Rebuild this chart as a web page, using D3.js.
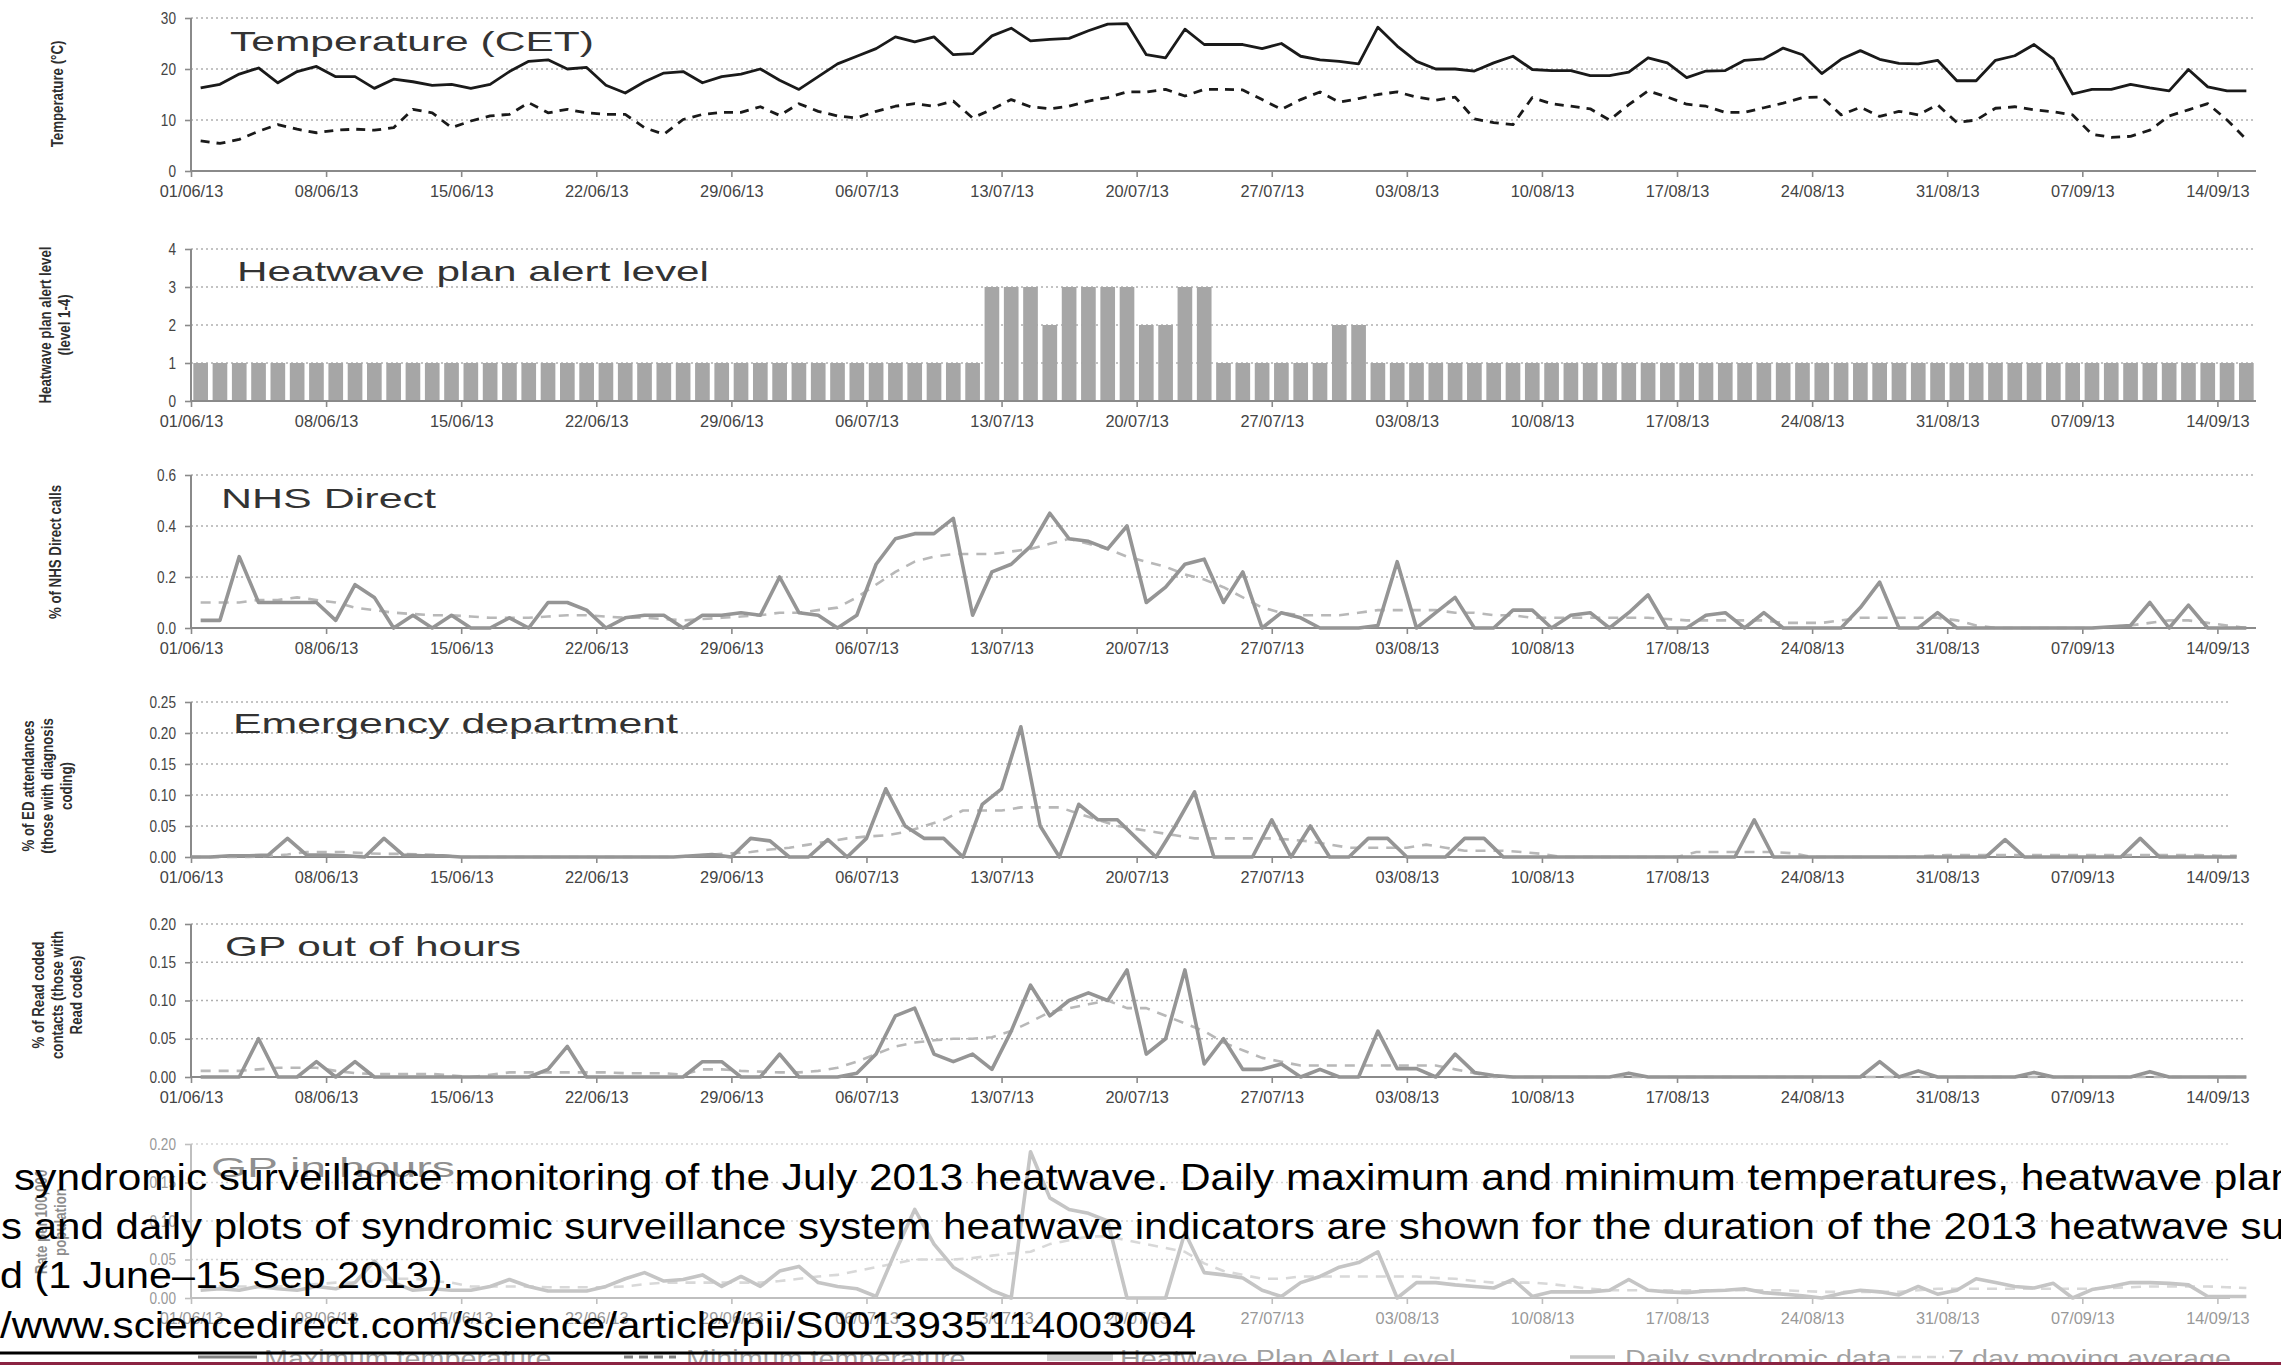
<!DOCTYPE html>
<html>
<head>
<meta charset="utf-8">
<script src="https://cdn.jsdelivr.net/npm/d3@7"></script>
<style>
  body { margin: 0; background: #fff; }
  text { font-family: "Liberation Sans", Arial, sans-serif; }
</style>
</head>
<body>
<svg width="2281" height="1365"></svg>
<script>
// Days shown: 01/06/13 to 15/09/13
const startDay = new Date(2013, 5, 1),
      endDay = new Date(2013, 8, 16);
const days = d3.timeDay.range(startDay, endDay);
const weekTicks = days.filter((d, i) => i % 7 === 0);

// Temperature (CET), degrees C
const maxTemp = [16.3,17,19,20.2,17.3,19.5,20.5,18.5,18.5,16.2,
  18,17.5,16.8,17,16.2,17,19.5,21.5,21.8,20,
  20.3,16.8,15.3,17.5,19.2,19.5,17.3,18.5,19,20,
  17.8,16,18.5,21,22.5,24,26.3,25.3,26.3,22.8,
  23,26.5,28,25.5,25.8,26,27.5,28.8,28.9,22.8,
  22.2,27.8,24.8,24.8,24.8,24,25,22.5,21.8,21.5,
  21,28.2,24.5,21.5,20,20,19.6,21.2,22.5,19.9,
  19.7,19.7,18.7,18.7,19.4,22.2,21.2,18.3,19.6,19.7,
  21.7,22,24.1,22.8,19.1,21.9,23.6,21.9,21.1,21,
  21.7,17.7,17.7,21.7,22.6,24.8,22,15.1,16,16,
  17,16.3,15.7,19.9,16.5,15.7,15.7];
const minTemp = [5.9,5.4,6.2,7.8,9.1,8.2,7.5,8,8.2,8,
  8.5,12.1,11.4,8.5,9.8,10.8,11.1,13.4,11.4,12.1,
  11.4,11.1,11.1,8.5,7.2,10.1,11.1,11.5,11.5,12.6,
  10.9,13.2,11.7,10.8,10.4,11.7,12.7,13.2,12.7,13.7,
  10.4,12.1,14,12.6,12.2,12.7,13.7,14.4,15.5,15.5,
  16,14.7,16,16,15.9,14,12.1,14,15.5,13.5,
  14.2,15,15.5,14.5,13.9,14.5,10.2,9.5,9.1,14.4,
  13.2,12.7,12.2,10,13,15.7,14.5,13.1,12.7,11.5,
  11.5,12.4,13.3,14.4,14.5,11,12.5,10.7,11.7,11,
  13,9.5,10,12.3,12.6,12,11.6,11,7.2,6.6,
  6.8,8,10.8,12,13.2,10,6.2];

// Heatwave plan alert level (1-4)
const alertLevel = [1,1,1,1,1,1,1,1,1,1, 1,1,1,1,1,1,1,1,1,1,
  1,1,1,1,1,1,1,1,1,1, 1,1,1,1,1,1,1,1,1,1,
  1,3,3,3,2,3,3,3,3,2, 2,3,3,1,1,1,1,1,1,2,
  2,1,1,1,1,1,1,1,1,1, 1,1,1,1,1,1,1,1,1,1,
  1,1,1,1,1,1,1,1,1,1, 1,1,1,1,1,1,1,1,1,1,
  1,1,1,1,1,1,1];

// NHS Direct, % of calls
const nhsDaily = [0.03,0.03,0.28,0.1,0.1,0.1,0.1,0.03,0.17,0.12,
  0,0.05,0,0.05,0,0,0.04,0,0.1,0.1,
  0.07,0,0.04,0.05,0.05,0,0.05,0.05,0.06,0.05,
  0.2,0.06,0.05,0,0.05,0.25,0.35,0.37,0.37,0.43,
  0.05,0.22,0.25,0.32,0.45,0.35,0.34,0.31,0.4,0.1,
  0.16,0.25,0.27,0.1,0.22,0,0.06,0.04,0,0,
  0,0.01,0.26,0,0.06,0.12,0,0,0.07,0.07,
  0,0.05,0.06,0,0.06,0.13,0,0,0.05,0.06,
  0,0.06,0,0,0,0,0.08,0.18,0,0,
  0.06,0,0,0,0,0,0,0,0,0.005,
  0.01,0.1,0,0.09,0,0,0];
const nhsAvg = [0.1,0.1,0.1,0.11,0.11,0.12,0.11,0.1,0.08,0.07,
  0.06,0.055,0.05,0.05,0.045,0.04,0.04,0.04,0.045,0.05,
  0.05,0.045,0.04,0.04,0.035,0.03,0.035,0.04,0.045,0.05,
  0.06,0.06,0.07,0.08,0.12,0.17,0.22,0.26,0.28,0.29,
  0.29,0.29,0.3,0.31,0.33,0.35,0.33,0.31,0.28,0.26,
  0.24,0.21,0.19,0.16,0.12,0.08,0.06,0.05,0.05,0.05,
  0.06,0.07,0.07,0.07,0.07,0.06,0.06,0.05,0.05,0.04,
  0.04,0.04,0.04,0.04,0.04,0.04,0.035,0.03,0.03,0.03,
  0.03,0.03,0.02,0.02,0.02,0.03,0.04,0.04,0.04,0.04,
  0.04,0.03,0.01,0,0,0,0,0,0,0.005,
  0.01,0.02,0.03,0.03,0.02,0.01,0];

// Emergency department, % of attendances
const edDaily = [0,0,0.002,0.002,0.003,0.03,0.003,0.003,0.002,0,
  0.03,0.003,0.002,0.002,0,0,0,0,0,0,
  0,0,0,0,0,0,0.002,0.004,0,0.03,
  0.026,0,0,0.028,0,0.03,0.11,0.05,0.03,0.03,
  0,0.085,0.11,0.21,0.05,0,0.085,0.06,0.06,0.03,
  0,0.05,0.105,0,0,0,0.06,0,0.05,0,
  0,0.03,0.03,0,0,0,0.03,0.03,0,0,
  0,0,0,0,0,0,0,0,0,0,
  0,0.06,0,0,0,0,0,0,0,0,
  0,0,0,0,0.028,0,0,0,0,0,
  0,0.03,0,0,0,0,0];
const edAvg = [0,0,0,0,0.002,0.004,0.008,0.008,0.008,0.006,
  0.005,0.005,0.004,0.003,0,0,0,0,0,0,
  0,0,0,0,0,0,0.002,0.004,0.006,0.008,
  0.012,0.015,0.02,0.025,0.03,0.033,0.035,0.04,0.05,0.06,
  0.075,0.075,0.075,0.08,0.08,0.08,0.07,0.06,0.05,0.045,
  0.04,0.035,0.03,0.03,0.03,0.03,0.03,0.028,0.025,0.02,
  0.015,0.015,0.015,0.015,0.02,0.015,0.01,0.01,0.01,0.008,
  0.005,0,0,0,0,0,0,0,0.008,0.008,
  0.008,0.008,0.008,0.006,0,0,0,0,0,0,
  0.002,0.003,0.003,0.003,0.003,0.003,0.003,0.003,0.003,0.003,
  0.003,0.003,0.003,0.003,0.003,0.002,0.002];

// GP out of hours, % of Read coded contacts
const oohDaily = [0,0,0,0.05,0,0,0.02,0,0.02,0,
  0,0,0,0,0,0,0,0,0.01,0.04,
  0,0,0,0,0,0,0.02,0.02,0,0,
  0.03,0,0,0,0.005,0.03,0.08,0.09,0.03,0.02,
  0.03,0.01,0.06,0.12,0.08,0.1,0.11,0.1,0.14,0.03,
  0.05,0.14,0.017,0.05,0.01,0.01,0.017,0,0.01,0,
  0,0.06,0.011,0.011,0,0.03,0.006,0.002,0,0,
  0,0,0,0,0.005,0,0,0,0,0,
  0,0,0,0,0,0,0,0.02,0,0.008,
  0,0,0,0,0,0.006,0,0,0,0,
  0,0.007,0,0,0,0,0];
const oohAvg = [0.008,0.008,0.008,0.01,0.012,0.012,0.012,0.008,0.005,0.004,
  0.004,0.004,0.004,0.002,0,0.003,0.006,0.006,0.006,0.006,
  0.006,0.006,0.005,0.005,0.005,0.003,0.01,0.01,0.008,0.007,
  0.006,0.006,0.008,0.012,0.02,0.03,0.04,0.045,0.048,0.05,
  0.05,0.052,0.06,0.072,0.085,0.09,0.095,0.1,0.09,0.09,
  0.08,0.07,0.06,0.045,0.035,0.025,0.02,0.015,0.015,0.015,
  0.015,0.015,0.015,0.015,0.015,0.01,0.005,0,0,0,
  0,0,0,0,0,0,0,0,0,0,
  0,0,0,0,0,0,0,0,0,0,
  0,0,0,0,0,0,0,0,0,0,
  0,0,0,0,0,0,0];

// GP in hours
const inhDaily = [0.01,0.012,0.01,0.015,0.012,0.01,0.015,0.012,0.02,0.048,
  0.02,0.01,0.012,0.01,0.01,0.015,0.024,0.015,0.009,0.009,
  0.009,0.015,0.025,0.033,0.022,0.024,0.03,0.015,0.028,0.015,
  0.035,0.041,0.02,0.015,0.012,0.002,0.06,0.115,0.07,0.04,
  0.025,0.01,0,0.19,0.13,0.115,0.11,0.1,0,0,
  0,0.085,0.033,0.03,0.026,0.01,0.002,0.02,0.028,0.04,
  0.046,0.06,0,0.02,0.02,0.017,0.015,0.013,0.024,0.002,
  0.008,0.008,0.008,0.01,0.024,0.01,0.008,0.007,0.009,0.01,
  0.012,0.007,0.005,0.003,0,0.006,0.01,0.008,0.004,0.015,
  0.005,0.01,0.025,0.02,0.015,0.013,0.019,0,0.011,0.015,
  0.02,0.02,0.019,0.017,0.002,0.002,0.002];
const inhAvg = [0.015,0.015,0.015,0.015,0.015,0.016,0.018,0.02,0.02,0.022,
  0.025,0.025,0.022,0.02,0.015,0.015,0.015,0.015,0.014,0.014,
  0.014,0.014,0.015,0.018,0.02,0.02,0.02,0.02,0.02,0.02,
  0.022,0.025,0.028,0.03,0.035,0.04,0.045,0.05,0.05,0.05,
  0.052,0.055,0.058,0.06,0.07,0.075,0.08,0.08,0.075,0.07,
  0.065,0.06,0.045,0.035,0.03,0.025,0.025,0.028,0.028,0.028,
  0.028,0.028,0.028,0.028,0.026,0.025,0.022,0.02,0.02,0.02,
  0.018,0.015,0.012,0.01,0.01,0.01,0.01,0.01,0.01,0.01,
  0.01,0.01,0.01,0.009,0.008,0.008,0.008,0.008,0.008,0.01,
  0.012,0.012,0.012,0.012,0.012,0.012,0.012,0.012,0.012,0.013,
  0.014,0.015,0.015,0.015,0.015,0.014,0.013];

const tempTicks = [0, 10, 20, 30];
const alertTicks = [0, 1, 2, 3, 4];
const nhsTicks = [0, 0.2, 0.4, 0.6];
const edTicks = [0, 0.05, 0.1, 0.15, 0.2, 0.25];
const gpTicks = [0, 0.05, 0.1, 0.15, 0.2];

const captionLines = [
  "syndromic surveillance monitoring of the July 2013 heatwave. Daily maximum and minimum temperatures, heatwave plan",
  "s and daily plots of syndromic surveillance system heatwave indicators are shown for the duration of the 2013 heatwave su",
  "d (1 June\u201315 Sep 2013).",
  "/www.sciencedirect.com/science/article/pii/S0013935114003004"
];

// line styles
const styles = {
  max:   { stroke: "#1a1a1a", width: 2.8, dash: null },
  min:   { stroke: "#1a1a1a", width: 2.8, dash: "9,7" },
  daily: { stroke: "#959595", width: 3.6, dash: null },
  avg:   { stroke: "#b8b8b8", width: 2.6, dash: "10,8" },
  bar:   { stroke: "#a6a6a6", width: 9, dash: null }
};

const svg = d3.select("svg");
const x = d3.scaleTime().domain([startDay, endDay]).range([191, 2256]);
const dayW = x(days[1]) - x(days[0]);
const fmt = d3.timeFormat("%d/%m/%y");

function stretch(sel, k) {
  sel.each(function() {
    const w = this.getComputedTextLength();
    d3.select(this).attr("textLength", w * k).attr("lengthAdjust", "spacingAndGlyphs");
  });
}

const panels = [
  { top: 18, bottom: 171, domain: [0, 30], ticks: tempTicks, format: d3.format("d"), end: 2256,
    title: "Temperature (CET)", tx: 230, tw: 364, ty: 51,
    ylab: ["Temperature (\u00b0C)"], lx: 57, ly: 94,
    series: [{ v: maxTemp, s: "max" }, { v: minTemp, s: "min" }], offset: 0.5 },
  { top: 249, bottom: 401, domain: [0, 4], ticks: alertTicks, format: d3.format("d"), end: 2256,
    title: "Heatwave plan alert level", tx: 237, tw: 472, ty: 281,
    ylab: ["Heatwave plan alert level", "(level 1-4)"], lx: 54, ly: 325,
    bars: alertLevel, series: [], offset: 0.5 },
  { top: 475, bottom: 628, domain: [0, 0.6], ticks: nhsTicks, format: d3.format(".1f"), end: 2256,
    title: "NHS Direct", tx: 221, tw: 215, ty: 508,
    ylab: ["% of NHS Direct calls"], lx: 55, ly: 552,
    series: [{ v: nhsAvg, s: "avg" }, { v: nhsDaily, s: "daily" }], offset: 0.5 },
  { top: 702, bottom: 857, domain: [0, 0.25], ticks: edTicks, format: d3.format(".2f"), end: 2230,
    title: "Emergency department", tx: 233, tw: 445, ty: 733,
    ylab: ["% of ED attendances", "(those with diagnosis", "coding)"], lx: 47, ly: 786,
    series: [{ v: edAvg, s: "avg" }, { v: edDaily, s: "daily" }], offset: 0 },
  { top: 924, bottom: 1077, domain: [0, 0.2], ticks: gpTicks, format: d3.format(".2f"), end: 2245,
    title: "GP out of hours", tx: 225, tw: 296, ty: 956,
    ylab: ["% of Read coded", "contacts (those with", "Read codes)"], lx: 57, ly: 995,
    series: [{ v: oohAvg, s: "avg" }, { v: oohDaily, s: "daily" }], offset: 0.5 },
  { top: 1144, bottom: 1298, domain: [0, 0.2], ticks: gpTicks, format: d3.format(".2f"), end: 2230,
    title: "GP in hours", tx: 211, tw: 244, ty: 1177,
    ylab: ["Rate per 100,000", "population"], lx: 50, ly: 1222,
    series: [{ v: inhAvg, s: "avg" }, { v: inhDaily, s: "daily" }], offset: 0.5 }
];

panels.forEach(p => {
  const y = d3.scaleLinear().domain(p.domain).range([p.bottom, p.top]);
  const g = svg.append("g");
  const x0 = x.range()[0];

  // dotted gridlines
  g.selectAll(".grid")
    .data(p.ticks.filter(t => t > 0))
    .join("line")
    .attr("x1", x0).attr("x2", p.end)
    .attr("y1", d => y(d)).attr("y2", d => y(d))
    .attr("stroke", "#b0b0b0").attr("stroke-width", 1.6).attr("stroke-dasharray", "2,3");

  // heatwave bars
  if (p.bars) {
    g.selectAll(".bar")
      .data(p.bars)
      .join("rect")
      .attr("x", (d, i) => x(days[i]) + dayW * 0.12)
      .attr("width", dayW * 0.76)
      .attr("y", d => y(d))
      .attr("height", d => p.bottom - y(d))
      .attr("fill", "#a6a6a6");
  }

  // axes
  const ya = g.append("g")
    .attr("transform", `translate(${x0},0)`)
    .call(d3.axisLeft(y).tickValues(p.ticks).tickFormat(p.format).tickSize(6).tickPadding(9));
  const xa = g.append("g")
    .attr("transform", `translate(0,${p.bottom})`)
    .call(d3.axisBottom(x).tickValues(weekTicks).tickFormat(fmt).tickSize(6).tickPadding(9));
  [ya, xa].forEach(a => {
    a.select(".domain").remove();
    a.selectAll(".tick line").attr("stroke", "#8a8a8a").attr("stroke-width", 1.6);
    a.selectAll(".tick text").attr("fill", "#444").style("font-size", "16px");
  });
  stretch(xa.selectAll(".tick text"), 1.02);
  stretch(ya.selectAll(".tick text"), 0.85);

  g.append("line")
    .attr("x1", x0).attr("x2", x0).attr("y1", p.top).attr("y2", p.bottom)
    .attr("stroke", "#8a8a8a").attr("stroke-width", 2);
  g.append("line")
    .attr("x1", x0).attr("x2", p.end).attr("y1", p.bottom).attr("y2", p.bottom)
    .attr("stroke", "#8a8a8a").attr("stroke-width", 2);

  // series lines
  p.series.forEach(s => {
    const st = styles[s.s];
    const line = d3.line()
      .x((d, i) => x(days[i]) + p.offset * dayW)
      .y(d => y(d));
    g.append("path")
      .datum(s.v)
      .attr("d", line)
      .attr("fill", "none")
      .attr("stroke", st.stroke)
      .attr("stroke-width", st.width)
      .attr("stroke-linejoin", "round")
      .attr("stroke-dasharray", st.dash);
  });

  // panel title
  g.append("text")
    .attr("x", p.tx).attr("y", p.ty)
    .attr("fill", "#333")
    .style("font-size", "28px")
    .attr("textLength", p.tw).attr("lengthAdjust", "spacingAndGlyphs")
    .text(p.title);

  // rotated y-axis title, one text per line, glyphs made thicker across
  const n = p.ylab.length, lh = 19;
  const labs = g.selectAll(".ylab")
    .data(p.ylab)
    .join("text")
    .attr("transform", (t, i) => `translate(${p.lx + (i - (n - 1) / 2) * lh + 6},${p.ly}) rotate(-90)`)
    .attr("text-anchor", "middle")
    .attr("fill", "#2e2e2e")
    .style("font-size", "17px")
    .style("font-weight", "bold")
    .text(t => t);
  stretch(labs, 0.78);
});

// legend (at bottom, partly cut off)
const legendItems = [
  { label: "Maximum temperature", s: "max", x0: 198, x1: 257, tx: 264 },
  { label: "Minimum temperature", s: "min", x0: 624, x1: 676, tx: 686 },
  { label: "Heatwave Plan Alert Level", s: "bar", x0: 1047, x1: 1113, tx: 1120 },
  { label: "Daily syndromic data", s: "daily", x0: 1570, x1: 1615, tx: 1625 },
  { label: "7 day moving average", s: "avg", x0: 1897, x1: 1944, tx: 1948 }
];
const legend = svg.append("g");
legendItems.forEach(d => {
  const st = styles[d.s];
  legend.append("line")
    .attr("x1", d.x0).attr("x2", d.x1).attr("y1", 1357).attr("y2", 1357)
    .attr("stroke", st.stroke)
    .attr("stroke-width", d.s === "bar" ? 8 : st.width)
    .attr("stroke-dasharray", d.s === "min" || d.s === "avg" ? "9,6" : null);
  legend.append("text")
    .attr("x", d.tx).attr("y", 1367)
    .attr("fill", "#555")
    .style("font-size", "23px")
    .text(d.label);
});
stretch(legend.selectAll("text"), 1.25);

// fade over the bottom panel where the caption sits
svg.append("rect")
  .attr("x", 0).attr("y", 1122).attr("width", 2281).attr("height", 243)
  .attr("fill", "#fff").attr("opacity", 0.45);

// caption text overlay
const capX = [14, 1, 0, 0];
const capY = [1190, 1239, 1288, 1338];
const capW = [2280, 2284, 454, 1196];
svg.selectAll(".cap")
  .data(captionLines)
  .join("text")
  .attr("x", (d, i) => capX[i])
  .attr("y", (d, i) => capY[i])
  .attr("fill", "#000")
  .style("font-size", "36px")
  .attr("textLength", (d, i) => capW[i])
  .attr("lengthAdjust", "spacingAndGlyphs")
  .text(d => d);

svg.append("line")
  .attr("x1", 0).attr("x2", 1196).attr("y1", 1353).attr("y2", 1353)
  .attr("stroke", "#000").attr("stroke-width", 3);

svg.append("rect")
  .attr("x", 0).attr("y", 1362).attr("width", 2281).attr("height", 3)
  .attr("fill", "#8b2342");
</script>
</body>
</html>
